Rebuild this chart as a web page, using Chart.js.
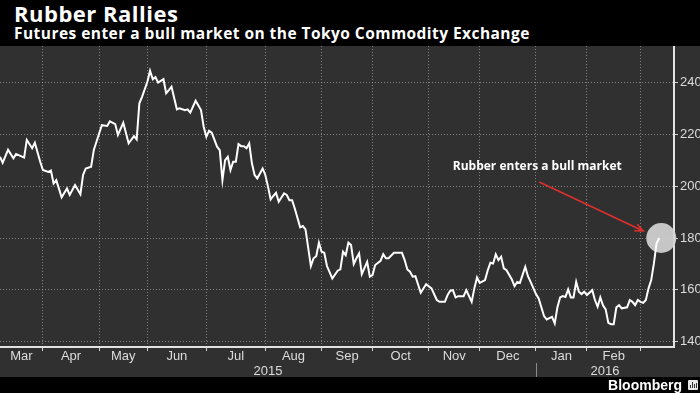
<!DOCTYPE html>
<html><head><meta charset="utf-8">
<script src="https://cdn.jsdelivr.net/npm/chart.js@4"></script>
<style>
html,body{margin:0;padding:0;background:#000;width:700px;height:393px;overflow:hidden;}
#title{position:absolute;left:14px;top:-1px;font:700 22px "Open Sans",sans-serif;letter-spacing:0.5px;color:#fff;line-height:28px;white-space:nowrap;}
#subtitle{position:absolute;left:14px;top:23px;font:700 15.5px "Open Sans",sans-serif;letter-spacing:0.45px;color:#fff;line-height:20px;white-space:nowrap;}
#wrap{position:absolute;left:0;top:46px;width:700px;height:331px;background:#303030;}
#footer{position:absolute;left:0;top:377px;width:700px;height:16px;background:#000;}
#brand{position:absolute;right:18px;top:-1px;font:700 14px "Liberation Sans",Arial,sans-serif;color:#fff;line-height:18px;}
#logo{position:absolute;left:688px;top:380px;width:10px;height:10px;background:#e8e8e8;border-radius:1px;}
#logo i{position:absolute;bottom:2px;width:1px;background:#333;}
</style></head>
<body>
<div id="title">Rubber Rallies</div>
<div id="subtitle">Futures enter a bull market on the Tokyo Commodity Exchange</div>
<div id="wrap"><canvas id="c" width="700" height="331"></canvas></div>
<div id="footer"><div id="brand">Bloomberg</div></div>
<div id="logo"><i style="left:2px;height:3px"></i><i style="left:4px;height:6px"></i><i style="left:6px;height:4px"></i><i style="left:8px;height:5px"></i></div>
<script>
// trading-day index since early March 2015
const tradingDay = [0,1,3,5,6,9,10,12,13,15,16,18,19,20,21,23,25,26,28,30,31,32,34,35,37,38,40,41,43,44,46,48,50,51,52,53,55,56,57,58,59,61,62,63,64,66,67,69,70,71,73,75,76,77,78,79,81,82,83,84,85,86,87,88,89,90,91,92,93,94,95,96,97,98,99,100,101,102,103,104,106,107,108,109,110,112,113,114,116,117,118,119,120,121,122,124,126,127,128,129,130,131,132,133,134,135,137,138,139,140,142,143,144,145,147,148,150,151,152,153,154,155,157,159,161,163,164,166,167,168,169,170,171,173,174,176,177,178,179,181,182,183,184,185,186,187,188,189,191,192,193,194,196,197,198,200,201,202,203,204,206,207,208,209,210,211,212,213,214,215,216,217,218,219,221,222,223,224,225,226,227,228,229,230,231,232,234,235,236,237,238,239,240,241,242,243,244,245,246];
// rubber futures price (yen/kg)
const price = [211.3,209,214,210.7,212.4,211,217.8,214.6,216.7,209.4,206.2,205.5,206,201,202.3,195.7,199.1,196.6,200.4,196.9,204.3,206.8,207.5,213.9,220.3,223.5,223.2,225,223.9,219.7,224.4,216.5,219.3,218,231.9,234.4,240.2,244.5,241.2,242,239.9,241.2,235.8,237,238.3,229.6,230,229.3,229.6,228.3,232.9,229.3,222.9,219,221.3,220.6,215.2,213.9,202.3,210,211.3,206.2,209.4,209.4,216.2,215.4,215.4,214.6,216.5,208.8,204.3,203,204.9,206.8,204.3,199.8,194.9,196.2,197.4,194,197.2,196.6,194.6,194.6,191.4,184.1,184.6,183.3,169.2,172.2,173,178.2,174.7,174.3,169.2,164.4,167.4,167.9,174.7,173.4,178.2,177.3,170,172.2,174.1,166.1,170.8,165.1,165.7,169.6,171.2,173.8,172.2,172.2,174.3,174.3,174.3,171.5,167.9,167,165.1,165.3,158.9,162.2,160.6,156.1,155.4,155.4,158,159.7,159.9,157.1,157.6,157.6,159.9,155.4,160.6,164.8,162.7,163.8,167.6,170.5,170.2,173.7,171.5,172.8,168.3,167.6,164,161.5,163.1,162.7,168.9,165.3,163.1,158.4,156.7,153.3,149.9,148.6,149.6,147.1,153.3,157.1,157.6,157.3,160.2,157.1,157.1,163.1,159.3,158.4,159.3,158,159.9,156.1,153.5,157.1,154.1,152.5,147.3,146.8,146.8,153.3,154.1,152.9,153.3,156.1,155.4,154.1,156.1,155.4,155,156.1,160.6,163.8,170.2,178,180];
const monthLabels = ['Mar','Apr','May','Jun','Jul','Aug','Sep','Oct','Nov','Dec','Jan','Feb'];
const monthStartDay = [16,37,55,77,99,120,139,160,179,200,219,239];
const yearLabels = ['2015','2016'];
const yearStartDay = [200];
const yTicks = [140,160,180,200,220,240];
const annotationText = 'Rubber enters a bull market';

const gridColor = 'rgba(185,185,185,0.6)';
const axisColor = '#e2e2e2';
const labelFont = '13px "Liberation Sans", Arial, sans-serif';

const annot = {
  id: 'annot',
  beforeDatasetsDraw(chart) {
    const {ctx, scales: {x, y}} = chart;
    const lx = x.getPixelForValue(tradingDay[tradingDay.length - 1]);
    const ly = y.getPixelForValue(price[price.length - 1]);
    ctx.save();
    ctx.beginPath();
    ctx.arc(lx + 2, ly, 15, 0, Math.PI * 2);
    ctx.fillStyle = 'rgba(212,212,212,0.92)';
    ctx.fill();
    ctx.restore();
  },
  afterDraw(chart) {
    const {ctx, chartArea, scales: {x, y}} = chart;
    const b = chartArea.bottom;
    ctx.save();
    const bounds = [x.min].concat(monthStartDay);
    ctx.font = labelFont;
    ctx.fillStyle = '#dcdcdc';
    ctx.textAlign = 'center';
    ctx.textBaseline = 'middle';
    monthLabels.forEach((m, i) => {
      const c = (x.getPixelForValue(bounds[i]) + x.getPixelForValue(bounds[i + 1])) / 2;
      ctx.fillText(m, c, b + 9);
    });
    const yb = [x.min].concat(yearStartDay, [x.max]);
    yearLabels.forEach((t, i) => {
      const c = (x.getPixelForValue(yb[i]) + x.getPixelForValue(yb[i + 1])) / 2;
      ctx.fillText(t, c, b + 24);
    });
    ctx.strokeStyle = '#8a8a8a';
    ctx.lineWidth = 1;
    yearStartDay.forEach(d => {
      const px = Math.round(x.getPixelForValue(d)) + 0.5;
      ctx.beginPath();
      ctx.moveTo(px, b + 16);
      ctx.lineTo(px, chart.height);
      ctx.stroke();
    });
    const lx = x.getPixelForValue(tradingDay[tradingDay.length - 1]);
    const ly = y.getPixelForValue(price[price.length - 1]);
    ctx.font = '700 12px "Open Sans", sans-serif';
    ctx.fillStyle = '#ffffff';
    ctx.fillText(annotationText, lx - 122, ly - 71);
    const sx = lx - 120, sy = ly - 56, ex = lx - 16, ey = ly - 7;
    ctx.strokeStyle = '#e0302c';
    ctx.lineWidth = 1.5;
    ctx.beginPath();
    ctx.moveTo(sx, sy);
    ctx.lineTo(ex, ey);
    const ang = Math.atan2(ey - sy, ex - sx);
    const hl = 9;
    ctx.moveTo(ex - hl * Math.cos(ang - 0.4), ey - hl * Math.sin(ang - 0.4));
    ctx.lineTo(ex, ey);
    ctx.lineTo(ex - hl * Math.cos(ang + 0.4), ey - hl * Math.sin(ang + 0.4));
    ctx.stroke();
    ctx.restore();
  }
};

new Chart(document.getElementById('c'), {
  type: 'line',
  data: {
    datasets: [{
      data: tradingDay.map((d, i) => ({x: d, y: price[i]})),
      borderColor: '#ffffff',
      borderWidth: 2,
      pointRadius: 0,
      tension: 0,
      fill: false
    }]
  },
  options: {
    responsive: false,
    animation: false,
    layout: {padding: 0},
    plugins: {legend: {display: false}, tooltip: {enabled: false}},
    scales: {
      x: {
        type: 'linear', position: 'bottom', min: 0, max: 251.5,
        afterBuildTicks: s => { s.ticks = monthStartDay.map(v => ({value: v})); },
        ticks: {display: false},
        grid: {color: gridColor, lineWidth: 1, drawTicks: true, tickLength: 4, tickColor: '#d0d0d0', tickWidth: 1, tickBorderDash: []},
        border: {display: true, color: axisColor, width: 2, dash: [1, 2]},
        afterFit: s => { s.height = 30; s.paddingLeft = 0; s.paddingRight = 0; }
      },
      y: {
        type: 'linear', position: 'right', min: 138, max: 254,
        afterBuildTicks: s => { s.ticks = yTicks.map(v => ({value: v})); },
        ticks: {color: '#dcdcdc', font: {family: '"Liberation Sans", Arial, sans-serif', size: 13}, padding: 2},
        grid: {color: gridColor, lineWidth: 1, drawTicks: true, tickLength: 4, tickColor: '#d0d0d0', tickWidth: 1, tickBorderDash: []},
        border: {display: true, color: axisColor, width: 2, dash: [1, 2]},
        afterFit: s => { s.width = 26; s.paddingTop = 0; s.paddingBottom = 0; }
      }
    }
  },
  plugins: [annot]
});
</script>
</body></html>
